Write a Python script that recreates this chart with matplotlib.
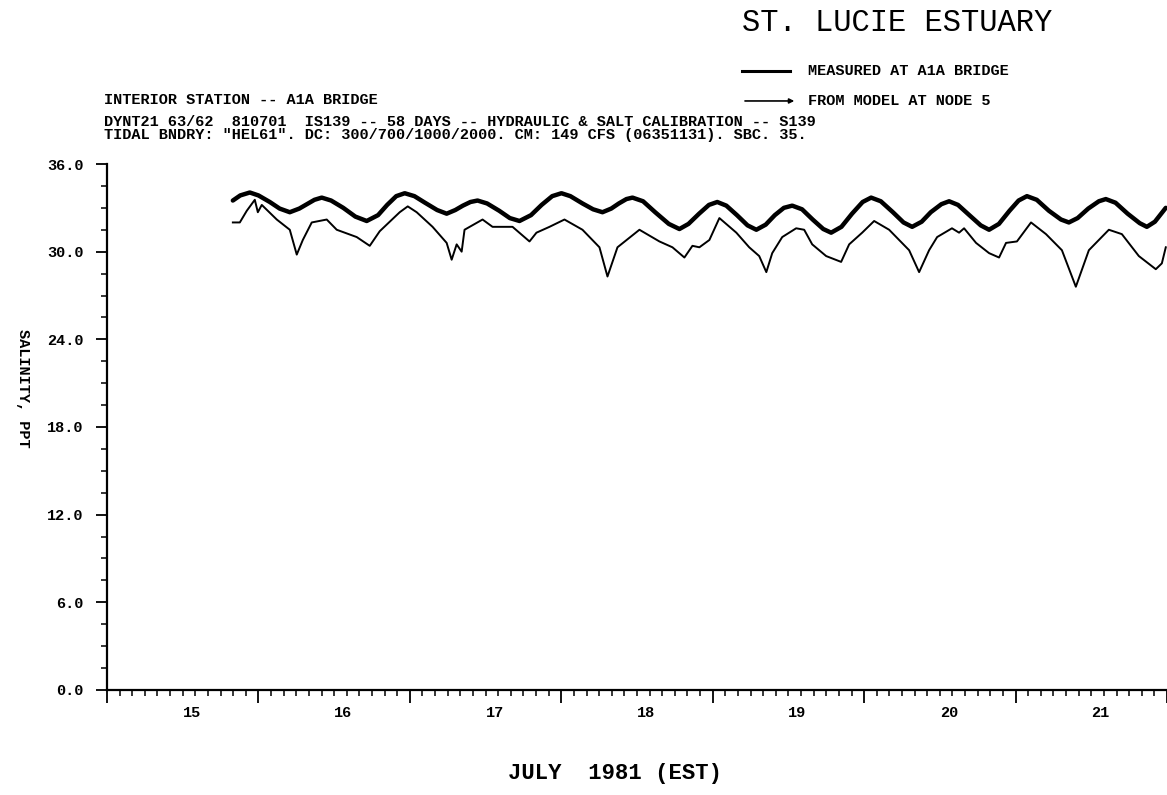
import matplotlib
matplotlib.use("Agg")
import matplotlib.pyplot as plt
from matplotlib.lines import Line2D
from matplotlib.patches import FancyArrowPatch

# salinity at the A1A bridge, July 1981 (day of month, ppt)
measured_day = [
    15.831, 15.880, 15.943, 16.000, 16.075, 16.140, 16.207, 16.270, 16.320, 16.370,
    16.418, 16.480, 16.560, 16.640, 16.715, 16.790, 16.850, 16.910, 16.966, 17.030,
    17.100, 17.180, 17.243, 17.300, 17.350, 17.400, 17.447, 17.510, 17.590, 17.660,
    17.724, 17.800, 17.870, 17.940, 18.001, 18.060, 18.140, 18.210, 18.272, 18.330,
    18.380, 18.430, 18.470, 18.540, 18.620, 18.710, 18.780, 18.840, 18.910, 18.975,
    19.030, 19.090, 19.160, 19.230, 19.288, 19.350, 19.410, 19.470, 19.525, 19.590,
    19.660, 19.730, 19.782, 19.850, 19.920, 19.990, 20.046, 20.110, 20.190, 20.260,
    20.317, 20.380, 20.440, 20.510, 20.561, 20.620, 20.700, 20.770, 20.825, 20.890,
    20.960, 21.020, 21.075, 21.140, 21.220, 21.300, 21.352, 21.410, 21.480, 21.550,
    21.596, 21.660, 21.740, 21.820, 21.867, 21.920, 21.992,
]
measured_ppt = [
    33.50, 33.85, 34.05, 33.85, 33.40, 32.95, 32.70, 32.95, 33.25, 33.55,
    33.70, 33.50, 33.00, 32.40, 32.10, 32.50, 33.20, 33.80, 34.00, 33.80,
    33.35, 32.85, 32.60, 32.85, 33.15, 33.40, 33.50, 33.30, 32.80, 32.30,
    32.10, 32.50, 33.20, 33.80, 34.00, 33.80, 33.30, 32.90, 32.70, 32.95,
    33.30, 33.60, 33.70, 33.45, 32.70, 31.90, 31.55, 31.90, 32.60, 33.20,
    33.40, 33.15, 32.50, 31.80, 31.50, 31.85, 32.50, 33.00, 33.15, 32.90,
    32.20, 31.55, 31.30, 31.70, 32.60, 33.40, 33.70, 33.45, 32.70, 32.00,
    31.70, 32.05, 32.70, 33.25, 33.45, 33.20, 32.45, 31.80, 31.50, 31.90,
    32.80, 33.50, 33.80, 33.55, 32.80, 32.20, 32.00, 32.30, 32.95, 33.45,
    33.60, 33.35, 32.60, 31.95, 31.70, 32.05, 33.00,
]

# model output at node 5
model_day = [
    15.831, 15.877, 15.923, 15.976, 15.996, 16.022, 16.121, 16.207, 16.253, 16.293,
    16.352, 16.451, 16.517, 16.649, 16.735, 16.801, 16.933, 16.986, 17.045, 17.150,
    17.243, 17.276, 17.309, 17.342, 17.361, 17.480, 17.546, 17.678, 17.790, 17.836,
    17.922, 18.021, 18.140, 18.252, 18.305, 18.371, 18.516, 18.648, 18.734, 18.813,
    18.866, 18.912, 18.978, 19.044, 19.156, 19.241, 19.307, 19.354, 19.393, 19.459,
    19.551, 19.604, 19.657, 19.749, 19.848, 19.901, 19.987, 20.066, 20.165, 20.297,
    20.363, 20.429, 20.482, 20.580, 20.627, 20.660, 20.739, 20.825, 20.891, 20.937,
    21.009, 21.102, 21.201, 21.306, 21.398, 21.484, 21.616, 21.702, 21.814, 21.926,
    21.966, 21.992,
]
model_ppt = [
    32.0, 32.0, 32.8, 33.55, 32.7, 33.2, 32.2, 31.5, 29.8, 30.8,
    32.0, 32.2, 31.5, 31.0, 30.4, 31.4, 32.7, 33.1, 32.7, 31.7,
    30.6, 29.45, 30.5, 30.0, 31.5, 32.2, 31.7, 31.7, 30.7, 31.3,
    31.7, 32.2, 31.5, 30.3, 28.3, 30.3, 31.5, 30.7, 30.3, 29.6,
    30.4, 30.3, 30.8, 32.3, 31.3, 30.3, 29.7, 28.6, 29.9, 31.0,
    31.6, 31.5, 30.5, 29.7, 29.3, 30.5, 31.3, 32.1, 31.5, 30.1,
    28.6, 30.1, 31.0, 31.6, 31.3, 31.6, 30.6, 29.9, 29.6, 30.6,
    30.7, 32.0, 31.2, 30.1, 27.6, 30.1, 31.5, 31.2, 29.7, 28.8,
    29.2, 30.3,
]

day_labels = [15, 16, 17, 18, 19, 20, 21]
y_major = [0, 6, 12, 18, 24, 30, 36]

MONO = "Liberation Mono"
SMALL = 11

fig = plt.figure(figsize=(11.67, 7.95), dpi=100)
ax = fig.add_axes([0.0917, 0.1321, 0.9083, 0.6616])

ax.plot(measured_day, measured_ppt, color="black", lw=3.2, solid_capstyle="round")
ax.plot(model_day, model_ppt, color="black", lw=1.4)

ax.set_xlim(15, 22)
ax.set_ylim(0, 36)
for side in ("top", "right"):
    ax.spines[side].set_visible(False)
for side in ("left", "bottom"):
    ax.spines[side].set_linewidth(1.6)

# midnight ticks long, 2-hour ticks short
ax.set_xticks(range(15, 23))
ax.set_xticks([15 + i / 12 for i in range(7 * 12 + 1)], minor=True)
ax.set_xticklabels([])
ax.tick_params(axis="x", which="major", length=9, width=1.3, direction="out")
ax.tick_params(axis="x", which="minor", length=4, width=1.1, direction="out")
for d in day_labels:
    ax.text(d + 0.5, -0.03, str(d), transform=ax.get_xaxis_transform(),
            ha="left", va="top", fontsize=SMALL, fontweight="bold", family=MONO)

ax.set_yticks(y_major)
ax.set_yticklabels([f"{v:.1f}" for v in y_major], family=MONO,
                   fontweight="bold", fontsize=SMALL)
ax.set_yticks([i * 1.5 for i in range(25)], minor=True)
ax.tick_params(axis="y", which="major", length=8, width=1.3, direction="out", pad=9)
ax.tick_params(axis="y", which="minor", length=4.5, width=1.1, direction="out")

fig.text(0.020, 0.512, "SALINITY, PPT", rotation=270, ha="center", va="center",
         fontsize=SMALL, fontweight="bold", family=MONO)
fig.text(0.527, 0.027, "JULY  1981 (EST)", ha="center", va="center",
         fontsize=16, fontweight="bold", family=MONO)

# title and legend block
fig.text(0.636, 0.971, "ST. LUCIE ESTUARY", ha="left", va="center",
         fontsize=22, family=MONO)
fig.add_artist(Line2D([0.636, 0.677], [0.911, 0.911], color="black", lw=2.2,
                      transform=fig.transFigure))
fig.text(0.692, 0.911, "MEASURED AT A1A BRIDGE", ha="left", va="center",
         fontsize=SMALL, fontweight="bold", family=MONO)
fig.add_artist(FancyArrowPatch((0.636, 0.873), (0.683, 0.873), arrowstyle="-|>",
                               mutation_scale=7, lw=1.2, color="black",
                               transform=fig.transFigure))
fig.text(0.692, 0.873, "FROM MODEL AT NODE 5", ha="left", va="center",
         fontsize=SMALL, fontweight="bold", family=MONO)

fig.text(0.089, 0.874, "INTERIOR STATION -- A1A BRIDGE", ha="left", va="center",
         fontsize=SMALL, fontweight="bold", family=MONO)
fig.text(0.089, 0.846,
         "DYNT21 63/62  810701  IS139 -- 58 DAYS -- HYDRAULIC & SALT CALIBRATION -- S139",
         ha="left", va="center", fontsize=SMALL, fontweight="bold", family=MONO)
fig.text(0.089, 0.830,
         "TIDAL BNDRY: \"HEL61\". DC: 300/700/1000/2000. CM: 149 CFS (06351131). SBC. 35.",
         ha="left", va="center", fontsize=SMALL, fontweight="bold", family=MONO)

fig.savefig("out.png", dpi=100)
